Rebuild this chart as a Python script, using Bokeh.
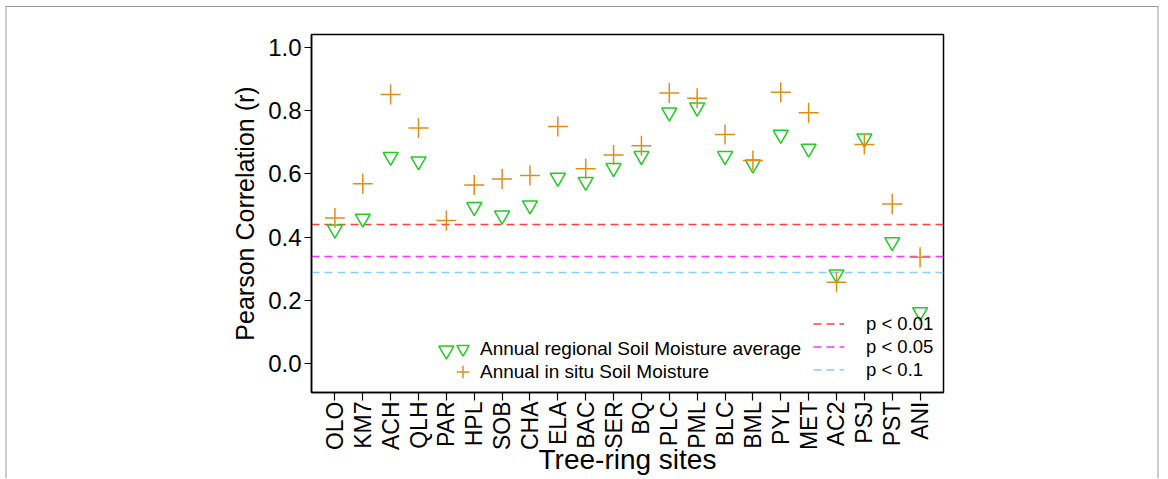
import math
from bokeh.plotting import figure
from bokeh.models import FixedTicker, Range1d, Legend, LegendItem, NumeralTickFormatter
from bokeh.embed import file_html
from bokeh.resources import INLINE

# ---- data ----
sites = ["OLO", "KM7", "ACH", "QLH", "PAR", "HPL", "SOB", "CHA", "ELA", "BAC", "SER",
         "BQ", "PLC", "PML", "BLC", "BML", "PYL", "MET", "AC2", "PSJ", "PST", "ANI"]
regional = [0.425, 0.459, 0.654, 0.640, 0.043, 0.496, 0.469, 0.501, 0.588, 0.575, 0.619,
            0.657, 0.794, 0.810, 0.657, 0.630, 0.724, 0.680, 0.283, 0.712, 0.385, 0.164]
in_situ = [0.461, 0.569, 0.851, 0.745, 0.453, 0.565, 0.584, 0.595, 0.750, 0.616, 0.660,
           0.689, 0.855, 0.839, 0.724, 0.642, 0.858, 0.793, 0.258, 0.693, 0.505, 0.337]
thresholds = [0.44, 0.34, 0.29]
threshold_labels = ["p < 0.01", "p < 0.05", "p < 0.1"]
y_ticks = [0.0, 0.2, 0.4, 0.6, 0.8, 1.0]
legend_labels = ["Annual regional Soil Moisture average", "Annual in situ Soil Moisture"]

# ---- styles ----
FONT = "Liberation Sans"
threshold_colors = ["#FF4040", "#FF33FF", "#8ECDF5"]
tri_color = "#22CC22"
cross_color = "#E08E1B"

xs = list(range(len(sites)))

p = figure(width=1154, height=472, output_backend="svg", toolbar_location=None,
           x_range=Range1d(-0.84, len(sites) - 1 + 0.84), y_range=Range1d(-0.09, 1.04),
           min_border_left=304, min_border_right=218, min_border_top=27, min_border_bottom=87,
           background_fill_color="white", border_fill_color="white",
           outline_line_color="black", outline_line_width=1.5,
           styles={"border-top": "1px solid #999999", "border-left": "2px solid #cccccc",
                   "border-right": "2px solid #cccccc", "margin-left": "5px", "margin-top": "6px"})

p.xgrid.visible = False
p.ygrid.visible = False

# x axis
p.xaxis.ticker = FixedTicker(ticks=xs)
p.xaxis.major_label_overrides = {i: s for i, s in zip(xs, sites)}
p.xaxis.major_label_orientation = math.pi / 2
p.xaxis.minor_tick_line_color = None
p.xaxis.major_tick_in = 0
p.xaxis.major_tick_out = 8
p.xaxis.major_label_standoff = 1
p.xaxis.major_label_text_font = FONT
p.xaxis.major_label_text_font_size = "23px"
p.xaxis.major_label_text_color = "black"
p.xaxis.axis_line_width = 1.5
p.xaxis.major_tick_line_width = 1.2
p.xaxis.axis_label = "Tree-ring sites"
p.xaxis.axis_label_text_font = FONT
p.xaxis.axis_label_text_font_size = "28px"
p.xaxis.axis_label_text_font_style = "normal"
p.xaxis.axis_label_text_color = "black"
p.xaxis.axis_label_standoff = -9

# y axis
p.yaxis.ticker = FixedTicker(ticks=y_ticks)
p.yaxis.formatter = NumeralTickFormatter(format="0.0")
p.yaxis.minor_tick_line_color = None
p.yaxis.major_tick_in = 0
p.yaxis.major_tick_out = 7
p.yaxis.major_label_standoff = 3
p.yaxis.major_label_text_font = FONT
p.yaxis.major_label_text_font_size = "24px"
p.yaxis.major_label_text_color = "black"
p.yaxis.axis_line_width = 1.5
p.yaxis.major_tick_line_width = 1.2
p.yaxis.axis_label = "Pearson Correlation (r)"
p.yaxis.axis_label_text_font = FONT
p.yaxis.axis_label_text_font_size = "25px"
p.yaxis.axis_label_text_font_style = "normal"
p.yaxis.axis_label_text_color = "black"
p.yaxis.axis_label_standoff = 6

# threshold lines
spans = []
for yv, col in zip(thresholds, threshold_colors):
    r = p.hspan(y=[yv], line_color=col, line_dash="8 5", line_width=1.5)
    spans.append(r)

# points
tri = p.scatter(xs, regional, marker="inverted_triangle", size=15, fill_color=None,
                line_color=tri_color, line_width=1.5)
crs = p.scatter(xs, in_situ, marker="cross", size=20, line_color=cross_color, line_width=1.5)


def one_legend(label, rend, loc):
    return Legend(items=[LegendItem(label=label, renderers=[rend])],
                  location=loc, margin=0, padding=0, spacing=0,
                  glyph_width=31, glyph_height=31, label_standoff=2, label_height=23,
                  label_text_font=FONT, label_text_font_size="19px", label_text_color="black",
                  border_line_color=None, background_fill_alpha=0)


p.add_layout(one_legend(legend_labels[0], tri, (136, 28)), "center")
p.add_layout(one_legend(legend_labels[1], crs, (136, 5)), "center")

leg2 = Legend(items=[LegendItem(label=lab, renderers=[r]) for lab, r in zip(threshold_labels, spans)],
              location=(502, 11), margin=0, padding=0, spacing=0,
              glyph_width=31, glyph_height=23, label_standoff=22, label_height=23,
              label_text_font=FONT, label_text_font_size="18.5px", label_text_color="black",
              border_line_color=None, background_fill_alpha=0)
p.add_layout(leg2, "center")

open("out.html", "w").write(file_html(p, INLINE))
